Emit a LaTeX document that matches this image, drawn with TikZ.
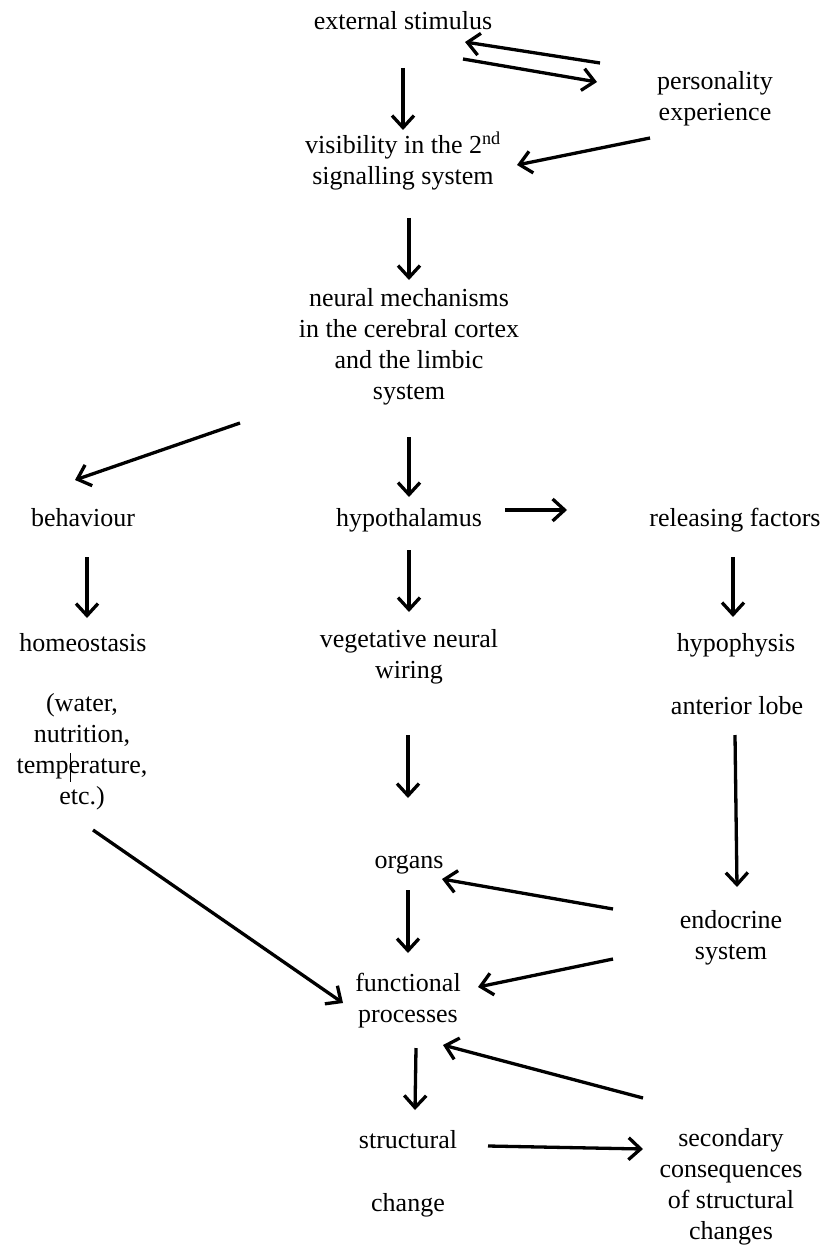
\documentclass[tikz,border=0pt]{standalone}
\usepackage{fontspec}
\setmainfont{Liberation Serif}
\usetikzlibrary{arrows.meta,calc}
\begin{document}
\begin{tikzpicture}[x=1pt,y=-1pt,
  lbl/.style={inner sep=0pt, outer sep=0pt, align=center,
    font=\fontsize{26}{31}\selectfont,
    execute at begin node={\strut}, execute at end node={\strut}},
  arr/.style={line width=3.3pt, -{Straight Barb[length=12pt,width=22pt,line width=3.3pt]}}]
\useasboundingbox (0,0) rectangle (829,1249);
\fill[white] (0,0) rectangle (829,1249);

\node[lbl] (ext)    at (403,23)   {external stimulus};
\node[lbl] (pers)   at (715,101)  {personality\\experience};
\node[lbl] (vis)    at (403,163)  {visibility in the 2\textsuperscript{nd}\\signalling system};
\node[lbl] (neural) at (409,349)  {neural mechanisms\\in the cerebral cortex\\and the limbic\\system};
\node[lbl] (behav)  at (83,520)   {behaviour};
\node[lbl] (hypo)   at (409,520)  {hypothalamus};
\node[lbl] (rel)    at (735,520)  {releasing factors};
\node[lbl] (homeo)  at (83,645)   {homeostasis};
\node[lbl] (veg)    at (409,659)  {vegetative neural\\wiring};
\node[lbl] (hypoph) at (736,645)  {hypophysis};
\node[lbl] (water)  at (82,754)   {(water,\\nutrition,\\temperature,\\etc.)};
\node[lbl] (ant)    at (737,708)  {anterior lobe};
\node[lbl] (organs) at (409,862)  {organs};
\node[lbl] (endo)   at (731,940)  {endocrine\\system};
\node[lbl] (func)   at (408,1002) {functional\\processes};
\node[lbl] (struct) at (408,1142) {structural};
\node[lbl] (change) at (408,1205) {change};
\node[lbl] (sec)    at (731,1189) {secondary\\consequences\\of structural\\changes};

% cursor mark inside "temperature"
\draw[line width=0.9pt] ($(water)+(-12,-1)$) -- ++(0,29);

\draw[arr] ($(ext)+(0,45)$) -- ($(vis)+(0,-33)$);
\draw[arr] ($(pers)+(-115,-38)$) -- ($(ext)+(62,19)$);
\draw[arr] ($(ext)+(60,36)$) -- ($(pers)+(-118,-19)$);
\draw[arr] ($(pers)+(-65,37)$) -- ($(vis)+(114,2)$);
\draw[arr] ($(vis)+(6,55)$) -- ($(neural)+(0,-69)$);
\draw[arr] ($(neural)+(0,88)$) -- ($(hypo)+(0,-23)$);
\draw[arr] ($(neural)+(-169,74)$) -- ($(behav)+(-8,-40)$);
\draw[arr] ($(hypo)+(96,-10)$) -- ($(rel)+(-168,-10)$);
\draw[arr] ($(behav)+(4,37)$) -- ($(homeo)+(4,-27)$);
\draw[arr] ($(hypo)+(0,30)$) -- ($(veg)+(0,-47)$);
\draw[arr] ($(rel)+(-2,37)$) -- ($(hypoph)+(-3,-28)$);
\draw[arr] ($(veg)+(-1,76)$) -- ($(organs)+(-1,-64)$);
\draw[arr] ($(ant)+(-2,27)$) -- ($(endo)+(6,-53)$);
\draw[arr] ($(endo)+(-118,-31)$) -- ($(organs)+(33,17)$);
\draw[arr] ($(organs)+(-1,28)$) -- ($(func)+(0,-49)$);
\draw[arr] ($(endo)+(-118,19)$) -- ($(func)+(70,-15)$);
\draw[arr] ($(water)+(11,76)$) -- ($(func)+(-65,1)$);
\draw[arr] ($(func)+(8,46)$) -- ($(struct)+(7,-32)$);
\draw[arr] ($(sec)+(-88,-91)$) -- ($(func)+(35,43)$);
\draw[arr] ($(struct)+(80,4)$) -- ($(sec)+(-88,-40)$);
\end{tikzpicture}
\end{document}
